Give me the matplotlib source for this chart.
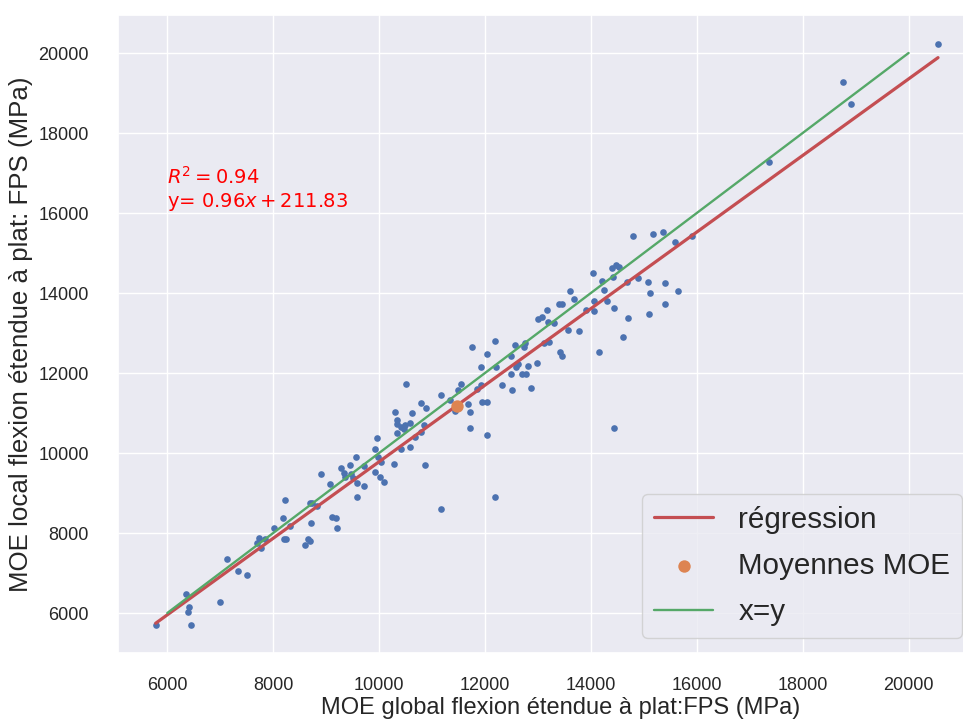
import numpy as np
import matplotlib
matplotlib.use("Agg")
import matplotlib.pyplot as plt
import seaborn as sns

# MOE global (x) and local (y), MPa
moe_global = [
    5781, 6359, 6410, 6391, 6442, 7001, 7122, 7335, 7500, 7732,
    7700, 7764, 7839, 8015, 8179, 8229, 8204, 8236, 8317, 8606,
    8657, 8701, 8720, 8689, 8733, 8833, 8908, 9078, 9116, 9192,
    9211, 9286, 9331, 9350, 9456, 9463, 9564, 9588, 9588, 9709,
    9715, 9917, 9966, 9979, 9917, 10030, 10017, 10087, 10276, 10295,
    10332, 10344, 10344, 10408, 10419, 10470, 10514, 10495, 10578, 10584,
    10621, 10684, 10786, 10797, 10848, 10861, 10886, 11163, 11163, 11333,
    11428, 11490, 11541, 11679, 11711, 11711, 11755, 11849, 11919, 11919,
    11943, 12032, 12038, 12038, 12183, 12183, 12202, 12321, 12497, 12510,
    12485, 12560, 12591, 12699, 12780, 12812, 12863, 12737, 12988, 12620,
    12750, 12995, 13071, 13165, 13120, 13214, 13196, 13309, 13403, 13449,
    13417, 13449, 13562, 13611, 13687, 13776, 13902, 14040, 14064, 14064,
    14153, 14204, 14248, 14298, 14393, 14423, 14474, 14536, 14442, 14601,
    14676, 14695, 14789, 14884, 15073, 15116, 15097, 15167, 15356, 15400,
    15400, 15589, 15639, 15904, 14436, 17358, 18767, 18906, 20556, 9500,
]
moe_local = [
    5700, 6475, 6158, 6025, 5700, 6283, 7342, 7058, 6958, 7867,
    7742, 7633, 7842, 8125, 8383, 8825, 7858, 7858, 8183, 7700,
    7842, 7800, 8250, 8742, 8758, 8675, 9475, 9217, 8408, 8383,
    8117, 9617, 9508, 9408, 9700, 9475, 9892, 9258, 8892, 9183,
    9675, 10092, 10375, 9908, 9533, 9783, 9408, 9283, 9733, 11017,
    10725, 10825, 10508, 10658, 10100, 10600, 11725, 10700, 10758, 10158,
    10992, 10408, 11258, 10517, 10700, 9700, 11117, 11442, 8600, 11325,
    11058, 11575, 11725, 11225, 11017, 10633, 12658, 11592, 12158, 11700,
    11283, 11283, 10442, 12475, 8892, 12792, 12158, 11700, 12425, 11575,
    11967, 12700, 12158, 11967, 11967, 12183, 11633, 12658, 12242, 12225,
    12740, 13342, 13392, 13575, 12758, 12783, 13283, 13242, 13725, 13725,
    12533, 12433, 13075, 14050, 13858, 13050, 13575, 14500, 13800, 13558,
    12533, 14308, 14075, 13800, 14625, 14392, 14700, 14658, 13633, 12892,
    14283, 13367, 15433, 14367, 14275, 13992, 13467, 15475, 15533, 14242,
    13725, 15275, 14050, 15433, 10633, 17267, 19267, 18717, 20233, 9380,
]

# regression results shown on the chart
slope = 0.957
intercept = 211.83
r2 = 0.94
mean_global = 11470
mean_local = 11175
identity_range = [6000, 20000]

sns.set_theme(style="darkgrid")
plt.rcParams["font.family"] = ["Liberation Sans", "DejaVu Sans"]

x = np.array(moe_global)
y = np.array(moe_local)

fig = plt.figure(figsize=(9.63, 7.2), dpi=100)
ax = fig.add_axes([118 / 963, 67 / 720, 859 / 963, 638 / 720])

ax.scatter(x, y, s=23, color="#4C72B0", linewidths=0, zorder=3)

x_fit = np.array([x.min(), x.max()])
ax.plot(x_fit, slope * x_fit + intercept, color="#C44E52", lw=2.3,
        label="régression", zorder=4)
ax.scatter([mean_global], [mean_local], s=80, color="#DD8452", linewidths=0,
           label="Moyennes MOE", zorder=5)
ax.plot(identity_range, identity_range, color="#55A868", lw=1.7,
        label="x=y", zorder=4)

ax.text(6000, 16000, f"$R^2 = {r2:.2f}$\ny= ${slope:.2f}x + {intercept:.2f}$",
        color="red", fontsize=14, family="DejaVu Sans", va="bottom")

ax.set_xlim(5069, 21292)
ax.set_ylim(5000, 20950)
ax.set_xticks(range(6000, 20001, 2000))
ax.set_yticks(range(6000, 20001, 2000))
ax.tick_params(axis="x", labelsize=13, pad=11)
ax.tick_params(axis="y", labelsize=13, pad=15)

ax.set_xlabel("MOE global flexion étendue à plat:FPS (MPa)", fontsize=17,
              labelpad=2.5)
ax.xaxis.label.set_x(0.5157)
ax.set_ylabel("MOE local flexion étendue à plat: FPS (MPa)", fontsize=18.6)

ax.legend(loc="lower right", fontsize=21.3, labelspacing=0.62,
          handletextpad=0.85)

fig.savefig("out.png", dpi=100)
